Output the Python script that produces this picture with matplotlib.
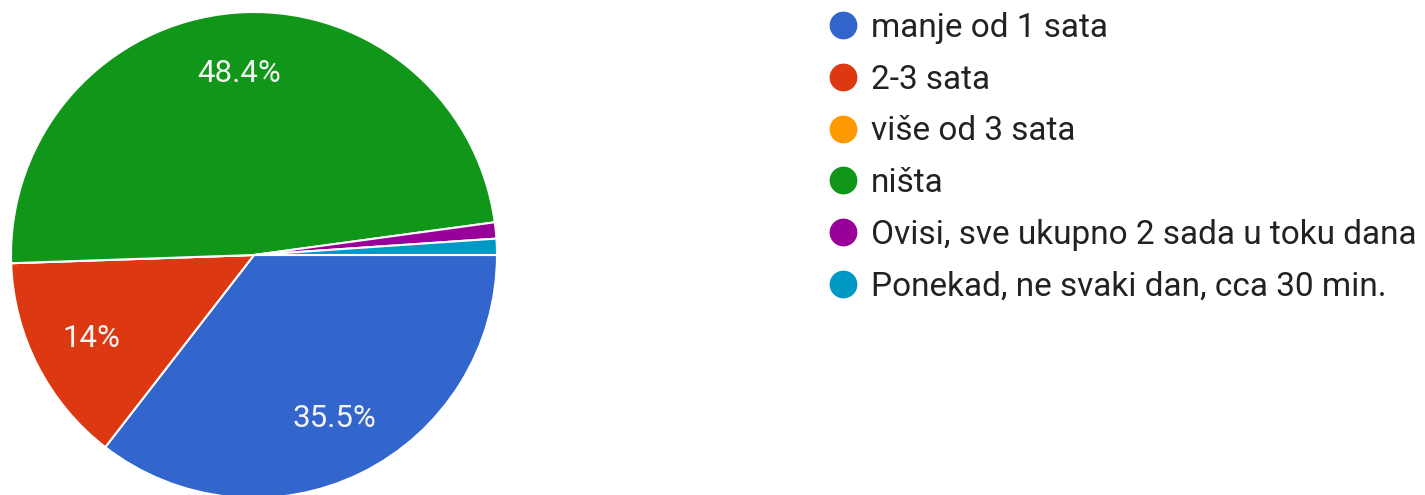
import matplotlib
matplotlib.use("Agg")
import matplotlib.pyplot as plt
from matplotlib.lines import Line2D

plt.rcParams['font.family'] = ['Roboto', 'DejaVu Sans']

labels = ['manje od 1 sata', '2-3 sata', 'više od 3 sata', 'ništa',
          'Ovisi, sve ukupno 2 sada u toku dana', 'Ponekad, ne svaki dan, cca 30 min.']
counts = [33, 13, 0, 45, 1, 1]
colors = ['#3366cc', '#dc3912', '#ff9900', '#109618', '#990099', '#0099c6']

W, H = 1425, 495
fig = plt.figure(figsize=(W / 100, H / 100), dpi=100)

# pie centre (254, 255) px from top-left, radius 243 px
cx, cy, r = 254, 255, 243
ax = fig.add_axes([(cx - r) / W, (H - cy - r) / H, 2 * r / W, 2 * r / H])

def pct(p):
    return f'{p:.1f}%'.replace('.0%', '%') if p > 5 else ''

wedges, texts, autotexts = ax.pie(counts, colors=colors, startangle=0, counterclock=False,
                                  autopct=pct, pctdistance=0.75,
                                  wedgeprops=dict(edgecolor='white', linewidth=1.5),
                                  textprops=dict(color='#f4f4f4', fontsize=22.5))
ax.set_xlim(-1, 1)
ax.set_ylim(-1, 1)
ax.set_aspect('equal')
ax.axis('off')

handles = [Line2D([0], [0], marker='o', linestyle='', markersize=19, markerfacecolor=c,
                  markeredgecolor=c) for c in colors]
fig.legend(handles, labels, loc='upper left', bbox_to_anchor=(826.3 / W, 1 - 12 / H),
           frameon=False, fontsize=24, handlelength=1, handletextpad=0.34,
           labelspacing=0.59, borderpad=0, borderaxespad=0, labelcolor='#222222')

fig.savefig('out.png', dpi=100)
